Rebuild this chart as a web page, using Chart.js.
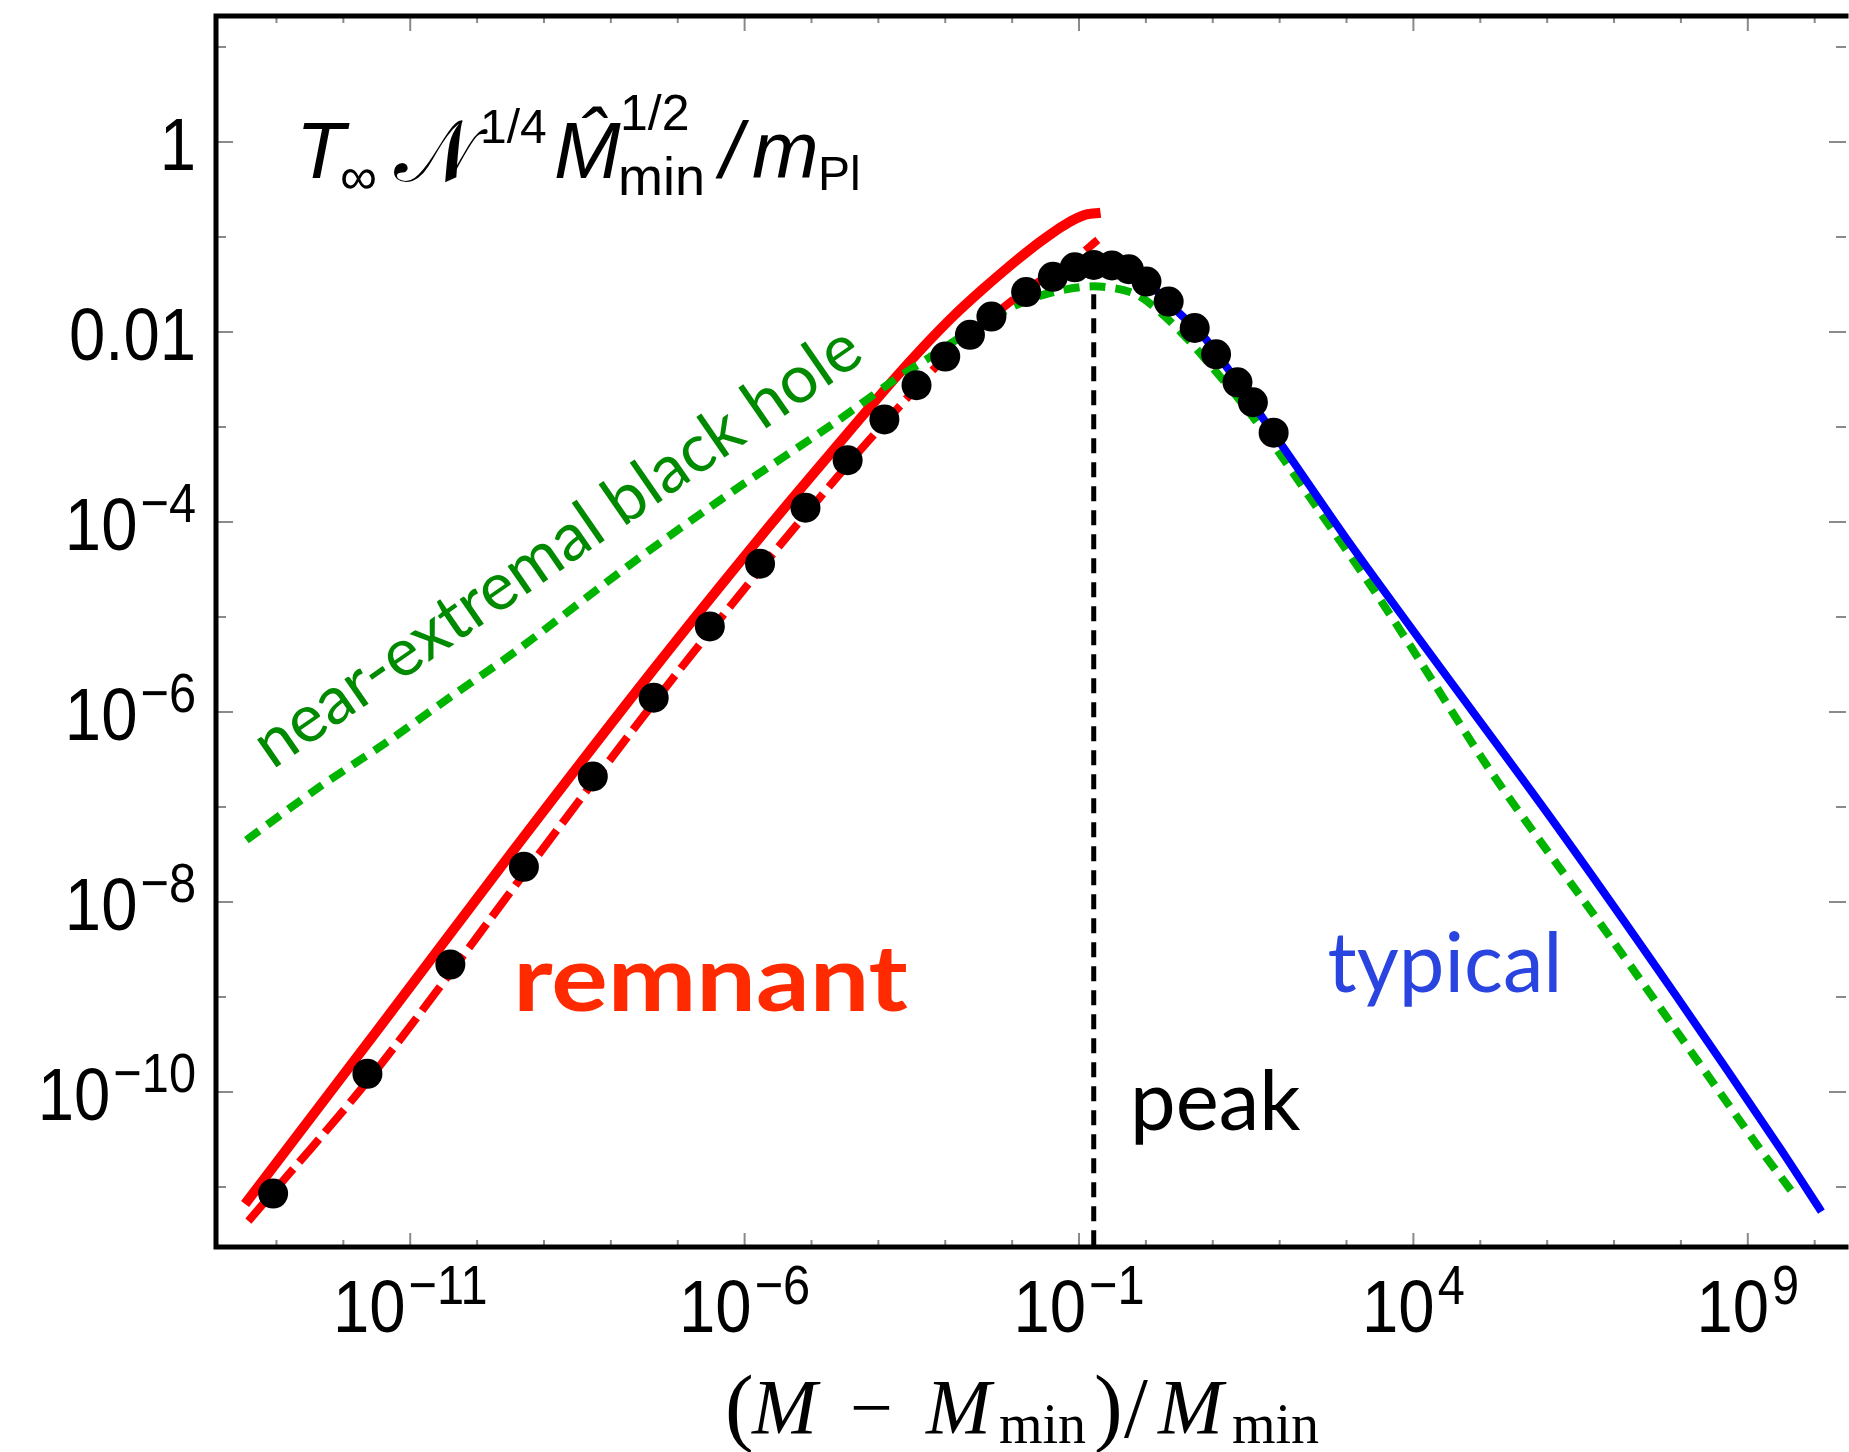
<!DOCTYPE html>
<html lang="en">
<head>
<meta charset="UTF-8">
<title>Temperature of the black hole remnant</title>
<script src="https://cdn.jsdelivr.net/npm/chart.js"></script>
<style>
  body { margin: 0; background: #fff; }
  #wrap { width: 1849px; height: 1452px; }
</style>
</head>
<body>
<div id="wrap"><canvas id="tempChart" width="1849" height="1452"></canvas></div>
<script>
// numerical results (black dots)
const dotX = [8.91e-14, 2.29e-12, 3.98e-11, 5.01e-10, 5.37e-9, 4.37e-8, 3.02e-7, 1.70e-6, 8.13e-6, 3.47e-5,
              1.23e-4, 3.72e-4, 1.0e-3, 2.34e-3, 4.90e-3, 1.62e-2, 4.07e-2, 8.65e-2, 0.166, 0.311,
              0.556, 1.02, 2.19, 5.37, 11.2, 23.4, 39.8, 81.3];
const dotY = [8.51e-12, 1.55e-10, 2.19e-9, 2.34e-8, 2.09e-7, 1.41e-6, 7.94e-6, 3.63e-5, 1.41e-4, 4.47e-4,
              1.20e-3, 2.75e-3, 5.50e-3, 9.33e-3, 1.45e-2, 2.63e-2, 3.80e-2, 4.79e-2, 5.07e-2, 5.01e-2,
              4.57e-2, 3.39e-2, 2.09e-2, 1.10e-2, 5.82e-3, 2.95e-3, 1.82e-3, 8.71e-4];

// remnant branch (solid red)
const remnantX = [3.39e-14, 3.16e-12, 3.39e-10, 4.27e-8, 2.24e-6, 3.16e-5, 1.70e-4, 4.79e-4, 1.34e-3,
                  3.76e-3, 1.05e-2, 1.96e-2, 3.65e-2, 5.50e-2, 8.32e-2, 0.126, 0.210];
const remnantY = [6.61e-12, 4.37e-10, 3.39e-8, 2.75e-6, 8.71e-5, 7.94e-4, 3.16e-3, 7.05e-3, 1.48e-2,
                  2.88e-2, 5.35e-2, 7.62e-2, 0.105, 0.128, 0.152, 0.172, 0.180];

// remnant approximation (dashed red)
const remnantFitX = [3.80e-14, 2.82e-12, 6.03e-10, 5.01e-8, 2.0e-6, 3.98e-5, 2.51e-4, 1.0e-3, 7.76e-3,
                     2.51e-2, 8.32e-2, 0.191];
const remnantFitY = [4.37e-12, 1.55e-10, 2.34e-8, 1.41e-6, 3.63e-5, 4.47e-4, 1.91e-3, 5.37e-3, 1.86e-2,
                     3.39e-2, 5.75e-2, 9.33e-2];

// near-extremal black hole (dotted green)
const nearX = [3.55e-14, 4.37e-13, 4.22e-12, 4.07e-11, 3.98e-10, 2.40e-8, 7.24e-7, 2.19e-5, 1.70e-4,
               5.75e-4, 2.51e-3, 1.05e-2, 3.63e-2, 0.166, 0.646, 1.51, 4.27, 9.77, 27.5, 77.6, 324,
               2570, 8910, 1.62e5, 1.0e7, 1.45e9, 4.47e9];
const nearY = [4.47e-8, 1.62e-7, 4.68e-7, 1.45e-6, 4.47e-6, 3.98e-5, 2.19e-4, 1.10e-3, 3.09e-3,
               5.37e-3, 1.05e-2, 1.86e-2, 2.57e-2, 3.02e-2, 2.57e-2, 1.70e-2, 8.32e-3, 4.27e-3, 1.78e-3,
               6.76e-4, 1.58e-4, 1.91e-5, 5.01e-6, 2.09e-7, 3.72e-9, 2.63e-11, 9.1e-12];

// typical branch (solid blue)
const typicalX = [0.166, 0.311, 0.556, 1.02, 2.82, 7.94, 95.5, 1100, 1.62e4, 1.29e6, 7.94e7, 2.95e9, 1.26e10];
const typicalY = [5.01e-2, 5.01e-2, 4.57e-2, 3.39e-2, 1.70e-2, 8.32e-3, 7.24e-4, 6.03e-5, 4.47e-6,
                  6.76e-8, 1.10e-9, 2.63e-11, 5.5e-12];

// peak marker (vertical dashed)
const peakX = [0.166, 0.166];
const peakY = [2.5e-2, 2.33e-12];

// axis ticks
const xTickExp = [-11, -6, -1, 4, 9];
const xTickLabels = [['10', '\u221211'], ['10', '\u22126'], ['10', '\u22121'], ['10', '4'], ['10', '9']];
const yTickExp = [0, -2, -4, -6, -8, -10];
const yTickLabels = [['1', ''], ['0.01', ''], ['10', '\u22124'], ['10', '\u22126'], ['10', '\u22128'], ['10', '\u221210']];

const SANS = '"Liberation Sans", Arial, sans-serif';
const SERIF = '"Liberation Serif", "Times New Roman", serif';
const GILL = 'Lato, "Open Sans", sans-serif';

function pts(xs, ys) {
  return xs.map((x, i) => ({ x: x, y: ys[i] }));
}

function drawText(ctx, s, x, y, font, color, sx, rot) {
  ctx.save();
  ctx.font = font;
  ctx.fillStyle = color || '#000';
  ctx.textAlign = 'left';
  ctx.textBaseline = 'alphabetic';
  ctx.translate(x, y);
  if (rot) ctx.rotate(rot);
  ctx.scale(sx || 1, 1);
  ctx.fillText(s, 0, 0);
  ctx.restore();
}

function textWidth(ctx, s, font, sx) {
  ctx.save();
  ctx.font = font;
  const w = ctx.measureText(s).width;
  ctx.restore();
  return w * (sx || 1);
}

// "10" with a raised exponent
function powerLabel(ctx, lab, x, y, align) {
  const baseFont = '75px ' + SANS, expFont = '56px ' + SANS, sx = 0.87, gap = 3;
  const wb = textWidth(ctx, lab[0], baseFont, sx);
  const we = lab[1] ? textWidth(ctx, lab[1], expFont, sx) + gap : 0;
  let x0 = x;
  if (align === 'center') x0 = x - (wb + we) / 2;
  if (align === 'right') x0 = x - (wb + we);
  drawText(ctx, lab[0], x0, y, baseFont, '#000', sx);
  if (lab[1]) drawText(ctx, lab[1], x0 + wb + gap, y - 28, expFont, '#000', sx);
}

const framePlugin = {
  id: 'frame',
  afterDraw(chart) {
    const ctx = chart.ctx, a = chart.chartArea;
    const xs = chart.scales.x, ys = chart.scales.y;
    const rightFrame = a.right + 12;

    // tick marks, inside the frame
    ctx.save();
    ctx.strokeStyle = '#8a8a8a';
    ctx.lineWidth = 2;
    ctx.beginPath();
    for (let e = -13; e <= 10; e++) {
      const px = xs.getPixelForValue(Math.pow(10, e));
      const major = xTickExp.includes(e);
      ctx.moveTo(px, a.bottom); ctx.lineTo(px, a.bottom - (major ? 14 : 7));
      ctx.moveTo(px, a.top); ctx.lineTo(px, a.top + (major ? 16 : 8));
    }
    for (let e = -11; e <= 1; e++) {
      const py = ys.getPixelForValue(Math.pow(10, e));
      const major = yTickExp.includes(e);
      ctx.moveTo(a.left, py); ctx.lineTo(a.left + (major ? 17 : 10), py);
      ctx.moveTo(rightFrame, py); ctx.lineTo(rightFrame - (major ? 17 : 10), py);
    }
    ctx.stroke();

    // frame
    ctx.strokeStyle = '#000';
    ctx.lineWidth = 5;
    ctx.lineCap = 'square';
    ctx.beginPath();
    ctx.moveTo(a.left, a.bottom); ctx.lineTo(a.left, a.top + 1);
    ctx.lineTo(rightFrame, a.top + 1);
    ctx.moveTo(a.left, a.bottom); ctx.lineTo(rightFrame, a.bottom);
    ctx.stroke();
    ctx.restore();

    // tick labels
    xTickExp.forEach((e, i) => {
      powerLabel(ctx, xTickLabels[i], xs.getPixelForValue(Math.pow(10, e)), a.bottom + 85, 'center');
    });
    yTickExp.forEach((e, i) => {
      powerLabel(ctx, yTickLabels[i], a.left - 20, ys.getPixelForValue(Math.pow(10, e)) + 28, 'right');
    });

    // x axis title: (M - M_min)/M_min
    const by = a.bottom + 186;
    const L = a.left;
    drawText(ctx, '(', L + 509, by + 2, '86px ' + SERIF);
    drawText(ctx, 'M', L + 536, by, 'italic 78px ' + SERIF);
    drawText(ctx, '\u2212', L + 634, by, '76px ' + SERIF);
    drawText(ctx, 'M', L + 710, by, 'italic 78px ' + SERIF);
    drawText(ctx, 'min', L + 783, by + 10, '56px ' + SERIF);
    drawText(ctx, ')', L + 878, by + 2, '86px ' + SERIF);
    drawText(ctx, '/', L + 908, by + 4, '86px ' + SERIF);
    drawText(ctx, 'M', L + 942, by, 'italic 78px ' + SERIF);
    drawText(ctx, 'min', L + 1016, by + 10, '56px ' + SERIF);

    // y quantity, written in the top left corner
    const ox = a.left + 80, oy = a.top + 163;
    drawText(ctx, 'T', ox, oy, 'italic 80px ' + SANS);
    drawText(ctx, '\u221E', ox + 44, oy + 16, '52px ' + SANS);
    drawText(ctx, '\uD835\uDCA9', ox + 98, oy + 3, '86px "DejaVu Sans", "Noto Sans", serif');
    drawText(ctx, '1/4', ox + 184, oy - 35, '48px ' + SANS);
    drawText(ctx, 'M\u0302', ox + 258, oy, 'italic 80px ' + SANS);
    drawText(ctx, '1/2', ox + 324, oy - 48, '50px ' + SANS);
    drawText(ctx, 'min', ox + 322, oy + 17, '54px ' + SANS);
    drawText(ctx, '/', ox + 424, oy, 'italic 80px ' + SANS);
    drawText(ctx, 'm', ox + 456, oy, 'italic 80px ' + SANS);
    drawText(ctx, 'Pl', ox + 522, oy + 12, '48px ' + SANS);

    // curve annotations, anchored in data coordinates
    const at = (x, y) => [xs.getPixelForValue(x), ys.getPixelForValue(y)];
    let p = at(8.7e-14, 2.45e-7);
    drawText(ctx, 'near-extremal black hole', p[0], p[1], '67px ' + GILL, '#008a00', 1, -0.605);
    p = at(3.47e-10, 7.13e-10);
    drawText(ctx, 'remnant', p[0], p[1], 'bold 92px ' + GILL, '#ff2a00', 1.15);
    p = at(520, 1.13e-9);
    drawText(ctx, 'typical', p[0], p[1], '84px ' + GILL, '#2a44e0', 0.97);
    p = at(0.58, 3.98e-11);
    drawText(ctx, 'peak', p[0], p[1], '84px ' + GILL, '#000', 0.97);
  }
};

new Chart(document.getElementById('tempChart'), {
  type: 'line',
  data: {
    datasets: [
      { label: 'numerical', type: 'scatter', data: pts(dotX, dotY), pointRadius: 15, pointHoverRadius: 15,
        backgroundColor: '#000', borderColor: '#000', borderWidth: 0, order: 0 },
      { label: 'typical', data: pts(typicalX, typicalY), borderColor: '#0000ff', borderWidth: 8,
        pointRadius: 0, tension: 0.3, order: 1 },
      { label: 'remnant approx', data: pts(remnantFitX, remnantFitY), borderColor: '#ff0000', borderWidth: 8,
        borderDash: [30, 9], pointRadius: 0, tension: 0.3, order: 2 },
      { label: 'near-extremal', data: pts(nearX, nearY), borderColor: '#00b400', borderWidth: 8,
        borderDash: [16, 10], pointRadius: 0, tension: 0.3, order: 3 },
      { label: 'remnant', data: pts(remnantX, remnantY), borderColor: '#ff0000', borderWidth: 10,
        pointRadius: 0, tension: 0.3, order: 4 },
      { label: 'peak', data: pts(peakX, peakY), borderColor: '#000', borderWidth: 5,
        borderDash: [15, 9], pointRadius: 0, order: 5 }
    ]
  },
  options: {
    responsive: false,
    animation: false,
    devicePixelRatio: 1,
    layout: { padding: { left: 216, top: 15, right: 0, bottom: 205 } },
    scales: {
      x: { type: 'logarithmic', min: 1.247e-14, max: 1.945e10, display: false },
      y: { type: 'logarithmic', min: 2.33e-12, max: 21.7, display: false }
    },
    plugins: { legend: { display: false }, tooltip: { enabled: false } }
  },
  plugins: [framePlugin]
});
</script>
</body>
</html>
